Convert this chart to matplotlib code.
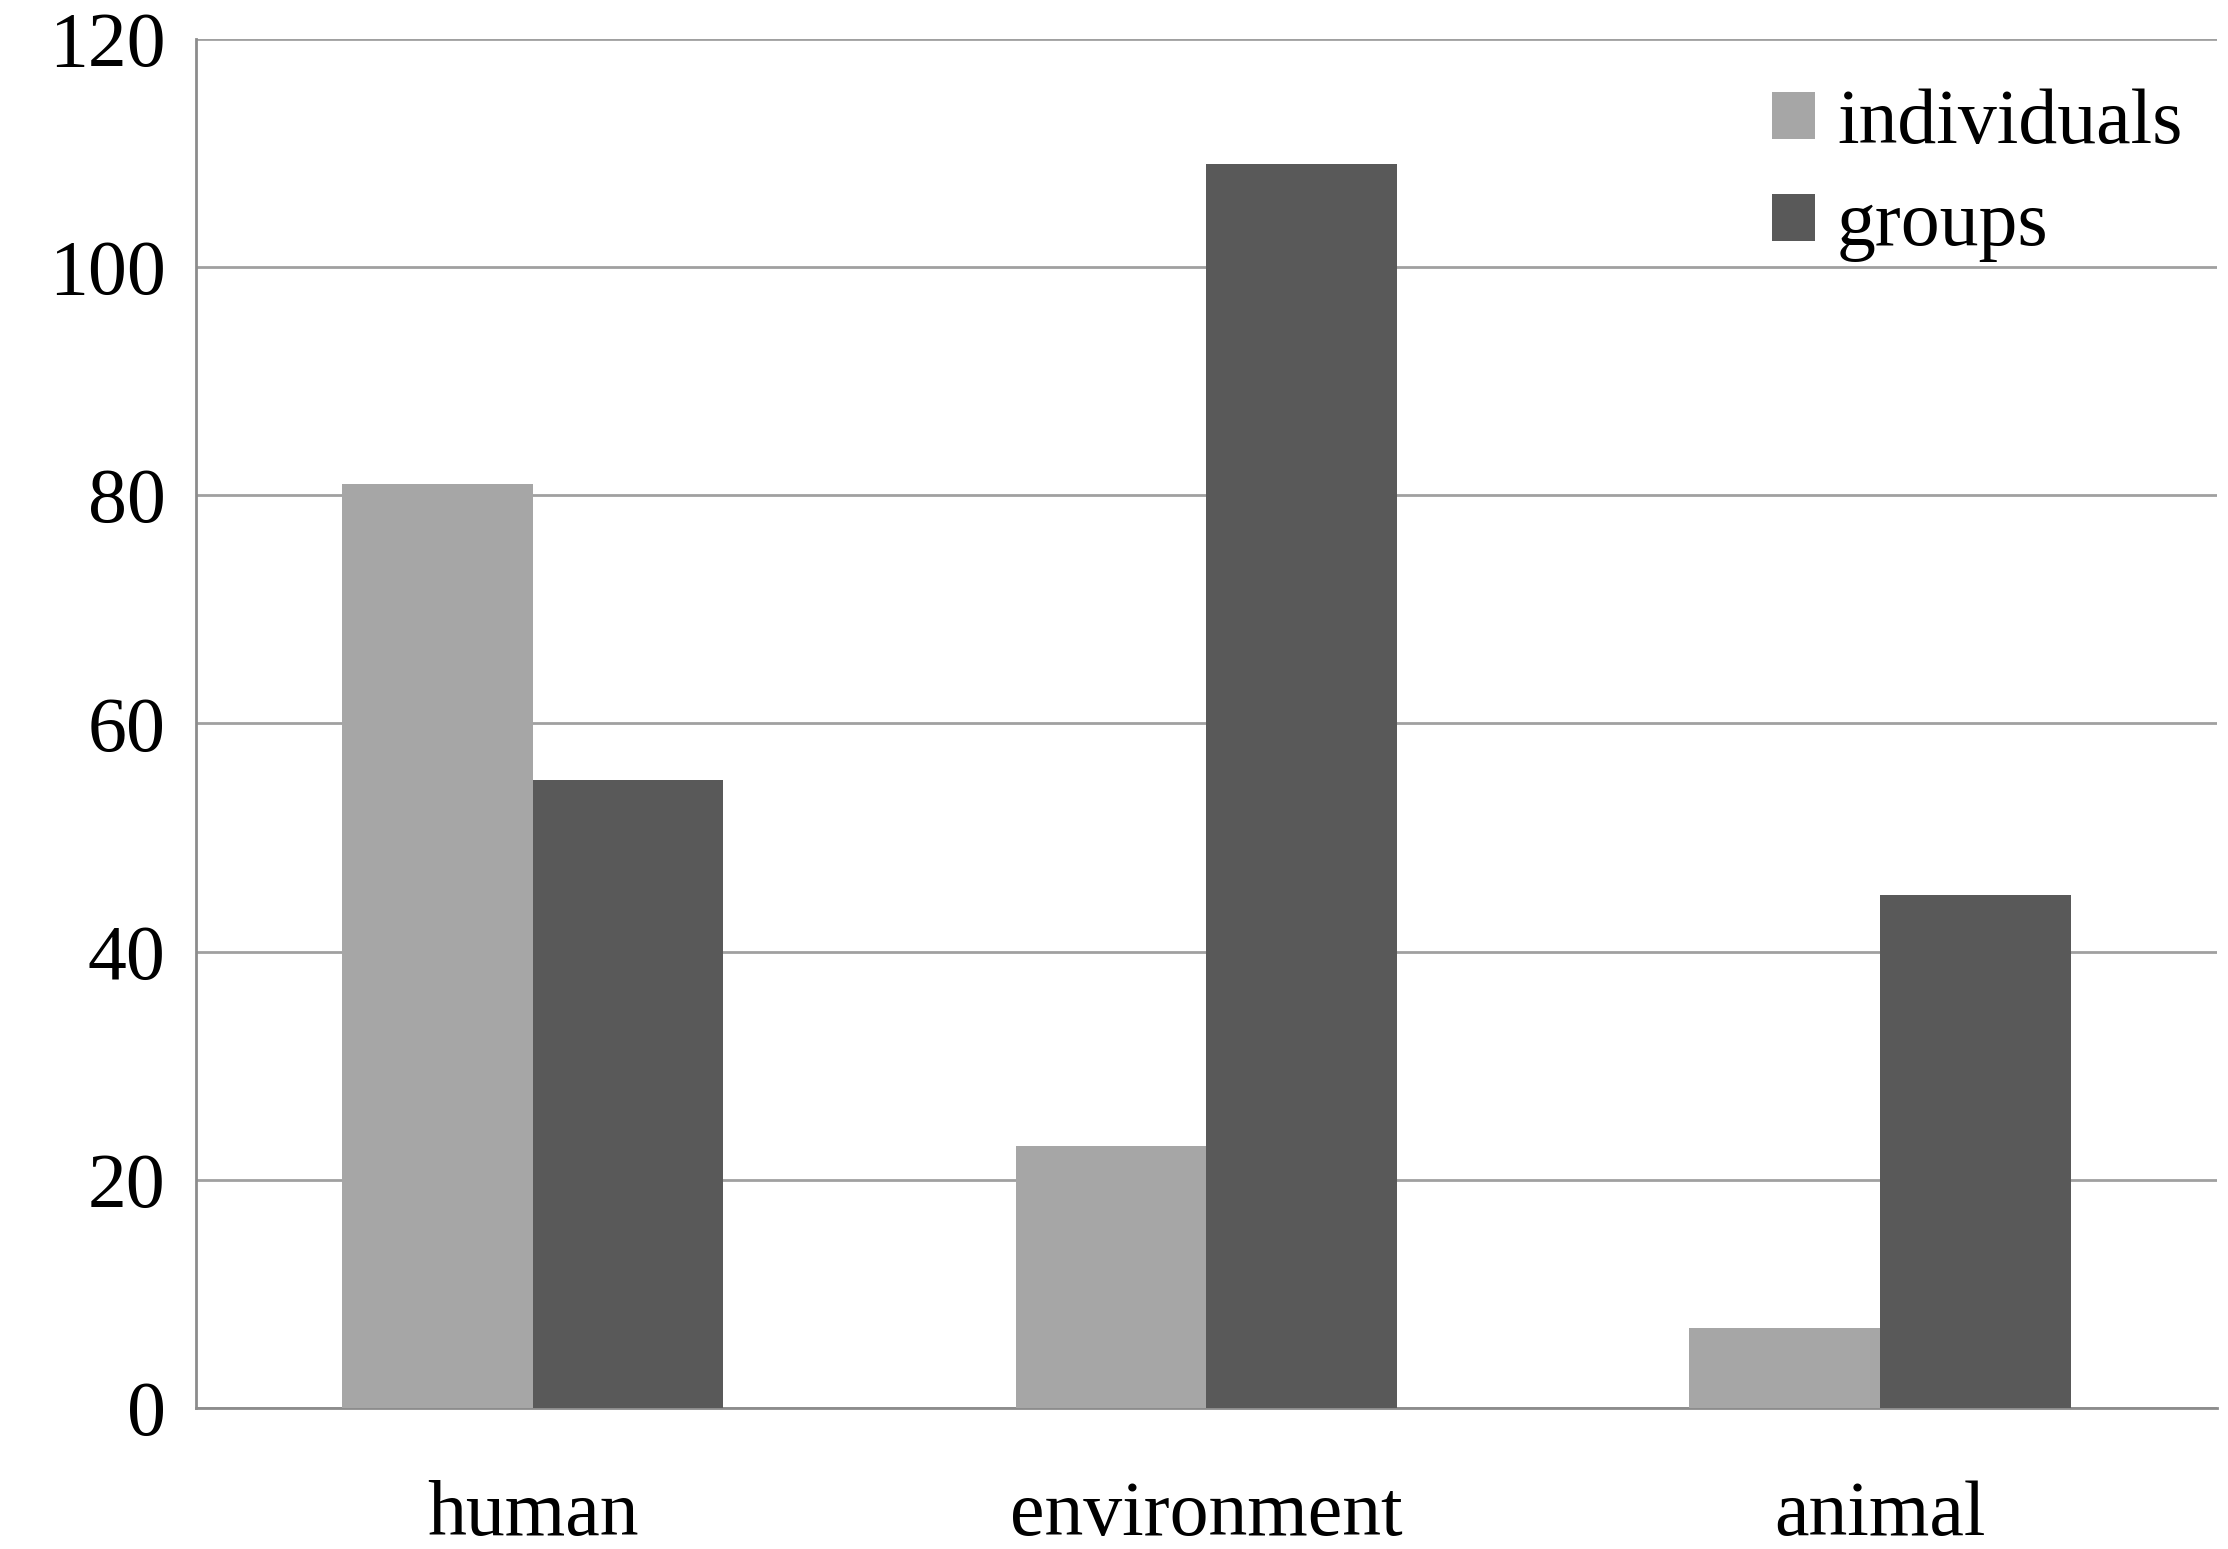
import matplotlib
matplotlib.use("Agg")
import matplotlib.pyplot as plt
import numpy as np

categories = ["human", "environment", "animal"]
individuals = [81, 23, 7]
groups = [55, 109, 45]
yticks = [0, 20, 40, 60, 80, 100, 120]

plt.rcParams['font.family'] = ['Liberation Serif', 'DejaVu Serif']

fig = plt.figure(figsize=(22.28, 15.49), dpi=100)
ax = fig.add_axes([0.088, 0.091, 0.907, 0.884])

x = np.arange(len(categories))
w = 0.283
ax.bar(x - w/2, individuals, w, color="#a6a6a6", label="individuals", zorder=3)
ax.bar(x + w/2, groups, w, color="#595959", label="groups", zorder=3)

ax.set_xlim(-0.5, 2.5)
ax.set_ylim(0, 120)
ax.set_yticks(yticks)
ax.set_xticks(x)
ax.set_xticklabels(categories)
ax.yaxis.grid(True, color="#a0a0a0", linewidth=2, zorder=0)
ax.set_axisbelow(True)
for s in ["top", "right"]:
    ax.spines[s].set_visible(False)
for s in ["left", "bottom"]:
    ax.spines[s].set_color("#8c8c8c")
    ax.spines[s].set_linewidth(2)
ax.tick_params(axis="both", length=0, labelsize=56, colors="black")
ax.tick_params(axis="y", pad=22)
ax.tick_params(axis="x", pad=52)

ax.legend(loc="upper right", bbox_to_anchor=(1.006, 0.998), frameon=False, fontsize=56,
          handlelength=0.55, handleheight=0.55, handletextpad=0.28, labelspacing=0.4,
          borderaxespad=0.2)

fig.savefig("out.png", dpi=100, facecolor="white")
